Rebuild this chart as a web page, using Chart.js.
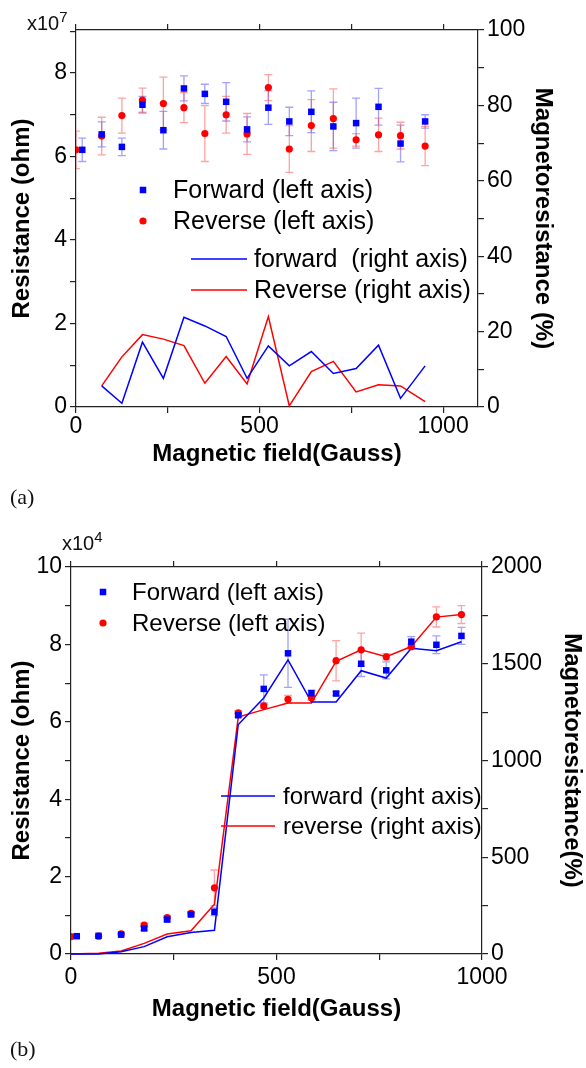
<!DOCTYPE html>
<html lang="en">
<head>
<meta charset="UTF-8" />
<title>Resistance and magnetoresistance vs magnetic field</title>
<script src="https://cdn.jsdelivr.net/npm/chart.js@4"></script>
<style>
  body { margin: 0; background: #fff; font-family: 'Liberation Sans', Arial, sans-serif; }
  #page { position: relative; width: 586px; height: 1068px; overflow: hidden; }
  canvas { position: absolute; left: 0; }
  .exp { position: absolute; font-size: 20px; line-height: 20px; color: #111; white-space: nowrap; }
  .exp span { font-size: 15px; position: relative; top: -8px; }
  .tag { position: absolute; font-family: 'Liberation Serif', 'DejaVu Serif', serif; font-size: 22px; color: #111; }
</style>
</head>
<body>
<div id="page">
  <canvas id="chartA" width="586" height="480" style="top:0"></canvas>
  <canvas id="chartB" width="586" height="500" style="top:540px"></canvas>
  <div class="exp" style="left:27px; top:13px">x10<span>7</span></div>
  <div class="exp" style="left:62px; top:533px">x10<span>4</span></div>
  <div class="tag" style="left:10px; top:484px">(a)</div>
  <div class="tag" style="left:10px; top:1036px">(b)</div>
</div>
<script>
  // ---- panel (a) ----
  // resistance in units of 1e7 ohm, magnetoresistance in %
  const fieldA = [70, 125, 181, 238, 294, 351, 409, 466, 524, 581, 641, 701, 763, 824, 884, 951];
  const fwdFieldA = [17].concat(fieldA);
  const revFieldA = [0].concat(fieldA);
  const fwdResA = [6.16, 6.53, 6.23, 7.24, 6.63, 7.63, 7.50, 7.31, 6.65, 7.17, 6.84, 7.07, 6.72, 6.80, 7.19, 6.31, 6.84];
  const fwdErrA = [0.28, 0.30, 0.21, 0.20, 0.45, 0.30, 0.23, 0.46, 0.30, 0.40, 0.34, 0.50, 0.58, 0.60, 0.44, 0.44, 0.16];
  const revResA = [6.16, 6.49, 6.98, 7.35, 7.27, 7.17, 6.55, 7.00, 6.54, 7.65, 6.18, 6.74, 6.91, 6.40, 6.52, 6.50, 6.25];
  const revErrA = [0.45, 0.45, 0.42, 0.29, 0.63, 0.36, 0.67, 0.44, 0.49, 0.31, 0.56, 0.62, 0.71, 0.15, 0.40, 0.32, 0.47];
  const fwdMrA = [5.6, 1.0, 17.2, 7.6, 23.8, 21.5, 18.7, 7.6, 16.2, 10.9, 14.7, 8.9, 10.2, 16.4, 2.3, 10.9];
  const revMrA = [5.6, 13.3, 19.2, 18.0, 16.3, 6.3, 13.4, 6.1, 24.0, 0.3, 9.4, 12.1, 4.0, 5.9, 5.6, 1.4];

  // ---- panel (b) ----
  // resistance in units of 1e4 ohm, magnetoresistance in %
  const fieldB = [67, 122, 178, 234, 292, 349, 407, 469, 528, 585, 645, 706, 767, 828, 889, 950];
  const fwdFieldB = [14].concat(fieldB);
  const revFieldB = [0].concat(fieldB);
  const fwdResB = [0.46, 0.47, 0.50, 0.66, 0.89, 1.02, 1.09, 6.17, 6.85, 7.77, 6.74, 6.73, 7.50, 7.33, 8.07, 7.99, 8.22];
  const fwdErrB = [0, 0, 0, 0.05, 0.05, 0.05, 0.10, 0.05, 0.36, 0.88, 0.08, 0.05, 0.33, 0.22, 0.13, 0.23, 0.22];
  const revResB = [0.45, 0.46, 0.52, 0.75, 0.94, 1.05, 1.71, 6.23, 6.41, 6.58, 6.62, 7.58, 7.86, 7.68, 7.94, 8.71, 8.77];
  const revErrB = [0, 0, 0, 0.05, 0.05, 0.05, 0.46, 0.05, 0.05, 0.10, 0.05, 0.52, 0.43, 0.08, 0.06, 0.26, 0.23];
  const fwdMrB = [0, 0, 12, 38, 89, 111, 123, 1186, 1323, 1520, 1302, 1302, 1464, 1426, 1580, 1567, 1614];
  const revMrB = [0, 4, 16, 55, 103, 120, 257, 1225, 1263, 1297, 1297, 1512, 1572, 1536, 1589, 1741, 1755];

  const FONT = "'Liberation Sans', Arial, sans-serif";
  const BLUE = '#0000ff';
  const RED = '#ff0000';

  const pts = (xs, ys) => ys.map((y, i) => ({ x: xs[i], y }));

  // vertical error bars with caps, drawn under the markers
  const errorBars = {
    id: 'errorBars',
    beforeDatasetsDraw(chart) {
      const { ctx, chartArea: a } = chart;
      ctx.save();
      ctx.beginPath();
      ctx.rect(a.left, a.top, a.right - a.left, a.bottom - a.top);
      ctx.clip();
      chart.data.datasets.forEach(ds => {
        if (!ds.errors) return;
        const xs = chart.scales.x, ys = chart.scales[ds.yAxisID];
        ctx.strokeStyle = ds.errorColor;
        ctx.lineWidth = 1.3;
        ds.data.forEach((p, j) => {
          const e = ds.errors[j];
          if (!e) return;
          const px = xs.getPixelForValue(p.x);
          const y1 = ys.getPixelForValue(p.y + e);
          const y2 = ys.getPixelForValue(p.y - e);
          ctx.beginPath();
          ctx.moveTo(px, y1); ctx.lineTo(px, y2);
          ctx.moveTo(px - 4, y1); ctx.lineTo(px + 4, y1);
          ctx.moveTo(px - 4, y2); ctx.lineTo(px + 4, y2);
          ctx.stroke();
        });
      });
      ctx.restore();
    }
  };

  // free-floating legend entries placed inside the plot
  const boxLegend = {
    id: 'boxLegend',
    afterDatasetsDraw(chart, args, opts) {
      const ctx = chart.ctx;
      ctx.save();
      ctx.font = opts.font;
      ctx.textBaseline = 'middle';
      opts.items.forEach(it => {
        const ds = chart.data.datasets[it.ds];
        if (ds.type === 'line') {
          ctx.strokeStyle = ds.borderColor;
          ctx.lineWidth = ds.borderWidth;
          ctx.beginPath();
          ctx.moveTo(it.x, it.y);
          ctx.lineTo(it.x + it.len, it.y);
          ctx.stroke();
        } else {
          ctx.fillStyle = ds.backgroundColor;
          if (ds.pointStyle === 'rect') {
            const s = ds.pointRadius * Math.SQRT1_2;
            ctx.fillRect(it.x - s, it.y - s, 2 * s, 2 * s);
          } else {
            ctx.beginPath();
            ctx.arc(it.x, it.y, ds.pointRadius, 0, Math.PI * 2);
            ctx.fill();
          }
        }
        ctx.fillStyle = '#000';
        ctx.fillText(ds.label, it.tx, it.y + 1);
      });
      ctx.restore();
    }
  };

  function makeScales(p) {
    const grid = { display: true, drawOnChartArea: false, drawTicks: true, tickLength: 6, color: '#222', tickColor: '#222', lineWidth: 1.2 };
    const border = { display: true, color: '#222', width: 1.2 };
    const tickFont = { family: FONT, size: 23 };
    const titleFont = { family: FONT, size: 24, weight: 'bold' };
    return {
      x: {
        type: 'linear', position: 'bottom', min: 0, max: p.xMax,
        afterFit: s => { s.height = p.bottomH; },
        grid, border,
        ticks: { stepSize: 250, autoSkip: false, includeBounds: false, maxRotation: 0, padding: p.xPad, color: '#000', font: tickFont,
          callback: v => (v % 500 === 0 ? v : '') },
        title: { display: true, text: 'Magnetic field(Gauss)', color: '#000', font: titleFont, padding: { top: 0, bottom: p.xTitlePad } }
      },
      xt: {
        type: 'linear', position: 'top', min: 0, max: p.xMax,
        afterFit: s => { s.height = p.topH; },
        grid, border,
        ticks: { display: false, stepSize: 250, autoSkip: false, includeBounds: false }
      },
      y: {
        type: 'linear', position: 'left', min: 0, max: p.yMax,
        afterFit: s => { s.width = p.leftW; },
        grid, border,
        ticks: { stepSize: 1, autoSkip: false, includeBounds: false, padding: 3, color: '#000', font: tickFont,
          callback: v => (v % 2 === 0 ? v : '') },
        title: { display: true, text: 'Resistance (ohm)', color: '#000', font: titleFont, padding: { top: p.yTitlePad, bottom: 0 } }
      },
      y2: {
        type: 'linear', position: 'right', min: 0, max: p.y2Max,
        afterFit: s => { s.width = p.rightW; },
        grid, border,
        ticks: { stepSize: p.y2Step, autoSkip: false, includeBounds: false, padding: 3, color: '#000', font: tickFont,
          callback: v => (v % (p.y2Step * 2) === 0 ? v : '') },
        title: { display: true, text: p.y2Title, color: '#000', font: titleFont, padding: { top: p.y2TitlePad, bottom: 0 } }
      }
    };
  }

  function makeDatasets(d) {
    return [
      { type: 'scatter', label: 'Forward (left axis)', data: pts(d.fwdX, d.fwdRes), yAxisID: 'y',
        pointStyle: 'rect', pointRadius: 4.6, backgroundColor: BLUE, borderWidth: 0, clip: 0,
        errors: d.fwdErr, errorColor: 'rgba(70,70,255,0.5)' },
      { type: 'scatter', label: 'Reverse (left axis)', data: pts(d.revX, d.revRes), yAxisID: 'y',
        pointStyle: 'circle', pointRadius: 3.6, backgroundColor: RED, borderWidth: 0, clip: 0,
        errors: d.revErr, errorColor: 'rgba(255,70,70,0.5)' },
      { type: 'line', label: d.fwdLineLabel, data: pts(d.lineX, d.fwdMr), yAxisID: 'y2',
        borderColor: BLUE, borderWidth: 1.5, pointRadius: 0, tension: 0, fill: false, clip: false },
      { type: 'line', label: d.revLineLabel, data: pts(d.lineX, d.revMr), yAxisID: 'y2',
        borderColor: RED, borderWidth: 1.5, pointRadius: 0, tension: 0, fill: false, clip: false }
    ];
  }

  function makeChart(id, datasets, scales, legendFont, legendItems) {
    return new Chart(document.getElementById(id), {
      type: 'scatter',
      data: { datasets },
      options: {
        responsive: false,
        animation: false,
        layout: { padding: 0 },
        scales,
        plugins: {
          legend: { display: false },
          tooltip: { enabled: false },
          boxLegend: { font: legendFont + 'px ' + FONT, items: legendItems }
        }
      },
      plugins: [errorBars, boxLegend]
    });
  }

  makeChart('chartA',
    makeDatasets({
      fwdX: fwdFieldA, fwdRes: fwdResA, fwdErr: fwdErrA,
      revX: revFieldA, revRes: revResA, revErr: revErrA,
      lineX: fieldA, fwdMr: fwdMrA, revMr: revMrA,
      fwdLineLabel: 'forward  (right axis)', revLineLabel: 'Reverse (right axis)'
    }),
    makeScales({ xMax: 1095, yMax: 9.03, y2Max: 100, y2Step: 10, y2Title: 'Magnetoresistance (%)',
      leftW: 76, rightW: 108, topH: 30, bottomH: 73, xPad: 0, xTitlePad: 11, yTitlePad: 8, y2TitlePad: 29 }),
    25,
    [
      { ds: 0, x: 143, y: 190, tx: 173 },
      { ds: 1, x: 143, y: 221, tx: 173 },
      { ds: 2, x: 191, y: 259, len: 56, tx: 254 },
      { ds: 3, x: 191, y: 290, len: 56, tx: 254 }
    ]);

  makeChart('chartB',
    makeDatasets({
      fwdX: fwdFieldB, fwdRes: fwdResB, fwdErr: fwdErrB,
      revX: revFieldB, revRes: revResB, revErr: revErrB,
      lineX: revFieldB, fwdMr: fwdMrB, revMr: revMrB,
      fwdLineLabel: 'forward (right axis)', revLineLabel: 'reverse (right axis)'
    }),
    makeScales({ xMax: 1000, yMax: 10, y2Max: 2000, y2Step: 250, y2Title: 'Magnetoresistance(%)',
      leftW: 71, rightW: 104, topH: 27, bottomH: 86, xPad: 4, xTitlePad: 16, yTitlePad: 8, y2TitlePad: 0 }),
    24,
    [
      { ds: 0, x: 103, y: 52, tx: 132 },
      { ds: 1, x: 103, y: 83, tx: 132 },
      { ds: 2, x: 221, y: 256, len: 54, tx: 283 },
      { ds: 3, x: 221, y: 286, len: 54, tx: 283 }
    ]);
</script>
</body>
</html>
